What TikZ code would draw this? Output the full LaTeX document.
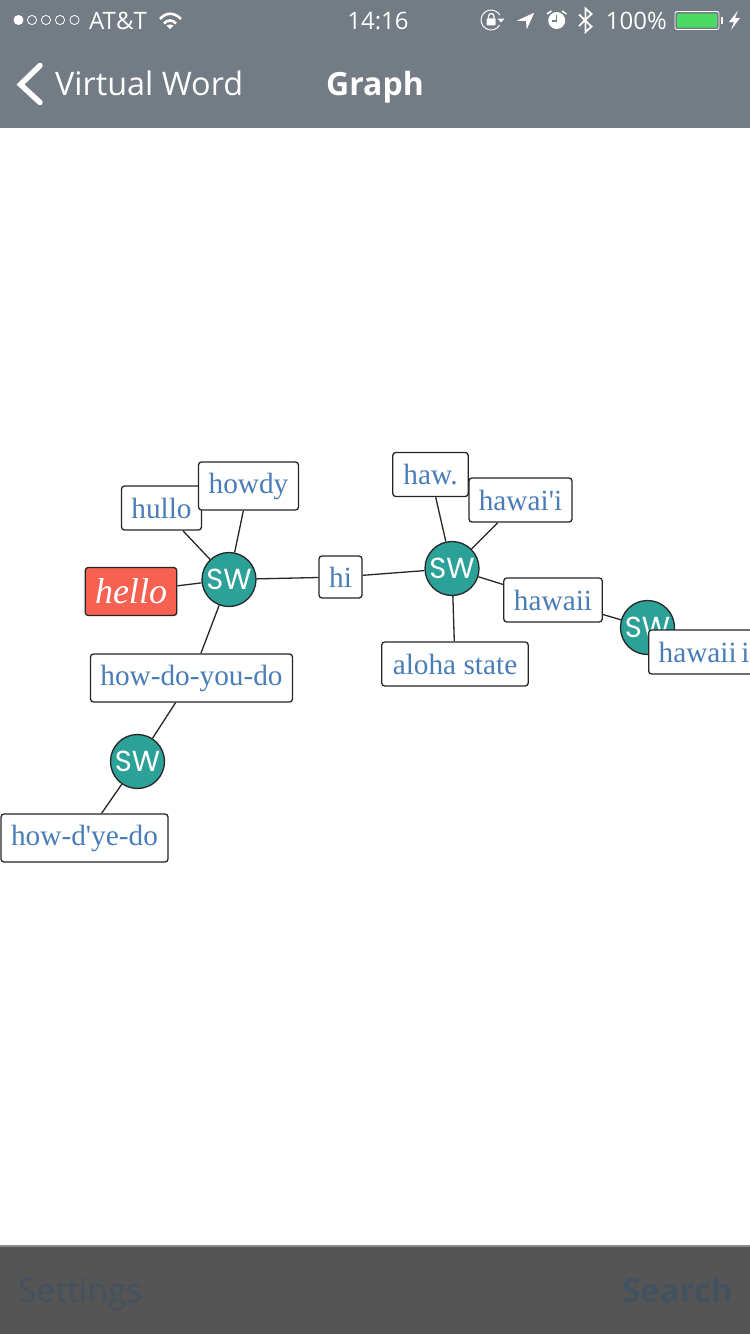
\documentclass[tikz,border=0pt]{standalone}
\usepackage{fontspec}
\setmainfont{Liberation Serif}
\newfontfamily\uifont{Open Sans}
\newfontfamily\swfont{Poppins}
\definecolor{barcolor}{HTML}{737B84}
\definecolor{footcolor}{HTML}{555555}
\definecolor{footline}{HTML}{8A8A8A}
\definecolor{foottext}{HTML}{435260}
\definecolor{swteal}{HTML}{2BA198}
\definecolor{wordblue}{HTML}{4A7DB8}
\definecolor{hellored}{HTML}{F76152}
\definecolor{batterygreen}{HTML}{4CD964}
\tikzset{
  wordbox/.style={draw=black!85, line width=1.3pt, rounded corners=3pt, fill=white,
    text=wordblue, inner sep=0pt, minimum height=44pt, text height=24pt, text depth=4pt,
    font=\fontsize{29.3}{29.3}\selectfont},
  tallbox/.style={wordbox, minimum height=48pt, text height=20pt, text depth=6pt},
  swnode/.style={circle, draw=black!85, line width=1.3pt, fill=swteal, text=white,
    inner sep=0pt, minimum size=54pt, font=\swfont\fontsize{29}{29}\selectfont},
  edge/.style={draw=black!85, line width=1.3pt},
  statustext/.style={text=white, inner sep=0pt, font=\uifont\fontsize{24}{24}\selectfont},
  titletext/.style={text=white, inner sep=0pt, font=\uifont\fontsize{32.4}{32.4}\selectfont},
  foottext/.style={text=foottext, inner sep=0pt, font=\uifont\fontsize{33.4}{33.4}\selectfont},
}
\begin{document}
\begin{tikzpicture}[x=1pt, y=-1pt]
    \useasboundingbox (0,0) rectangle (750,1334);
    \clip (0,0) rectangle (750,1334);
    % 1. bars
    \fill[white] (0,0) rectangle (750,1334);
    \fill[barcolor] (0,0) rectangle (750,128);
    \fill[footcolor] (0,1245) rectangle (750,1334);
    \fill[footline] (0,1245) rectangle (750,1246.5);

    % 2. status bar
    \fill[white] (18.5,20) circle (5);
    \foreach \x in {32,46,60,74.5} {
        \draw[white, line width=0.8pt] (\x,20) circle (4.6);
    }
    \node[statustext, anchor=base west] (carrier) at (89,29) {AT\&T};
    \draw[white, line width=2.6pt] (160,19) .. controls (166,12) and (174,12) .. (181,19);
    \draw[white, line width=2.6pt] (164,23.5) .. controls (167.5,19.5) and (172.5,19.5) .. (176,23.5);
    \fill[white] (166.5,25.5) .. controls (168.5,24) and (171.5,24) .. (173.5,25.5) -- (170,29) -- cycle;
    \node[statustext, anchor=base] (clock) at (378,29) {14:16};
    % lock
    \draw[white, line width=1pt] (499.7,25) arc[start angle=-30, end angle=-330, radius=10pt];
    \fill[white, rounded corners=0.8pt] (486.7,18.3) rectangle (495.7,25.3);
    \draw[white, line width=1.3pt] (488.5,18.5) -- (488.5,16.5) .. controls (488.5,12.5) and (494,12.5) .. (494,16.5) -- (494,18.5);
    \fill[white] (497.5,18.5) -- (504.5,18.5) -- (501,22.5) -- cycle;
    % location
    \fill[white] (516.7,20.7) -- (534.3,12.7) -- (526.7,29.3) -- (526,21) -- cycle;
    % alarm
    \fill[white] (556.7,20.5) circle (8.5);
    \draw[barcolor, line width=1.3pt] (556.7,14.5) -- (556.7,21) -- (551.5,21);
    \draw[white, line width=1.6pt] (547,14) -- (551.5,11);
    \draw[white, line width=1.6pt] (566.5,14) -- (562,11);
    % bluetooth
    \draw[white, line width=1.8pt] (579,14.5) -- (591.5,26.5) -- (585.5,32) -- (585.5,8.5) -- (591.5,14) -- (579,26);
    \node[statustext, anchor=base east] (percent) at (667,29) {100\%};
    % battery
    \draw[white, line width=0.8pt, rounded corners=2pt] (675,11.5) rectangle (719,29.5);
    \fill[batterygreen, rounded corners=1pt] (677,13.5) rectangle (717,27.5);
    \fill[white] (720.5,17) rectangle (722.5,24);
    \fill[white] (738,10.5) -- (729,22) -- (734,22) -- (731,30) -- (740,18) -- (735,18) -- cycle;

    % 3. title bar
    \draw[white, line width=5.5pt, line cap=round, line join=miter] (40,65.5) -- (20.5,84.5) -- (40,102.5);
    \node[titletext, anchor=base west] (backlabel) at (55,95.5) {Virtual Word};
    \node[titletext, anchor=base, font=\uifont\bfseries\fontsize{32}{32}\selectfont] (title) at (375,95.5) {Graph};

    % 4. bottom bar
    \node[foottext, anchor=base west] (settings) at (18,1302) {Settings};
    \node[foottext, anchor=base east, font=\uifont\bfseries\fontsize{33}{33}\selectfont] (search) at (733,1302) {Search};

    % 5. word nodes and sw nodes
    \node[swnode] (swa) at (229,579.5) {SW};
    \node[swnode] (swb) at (137.5,761.5) {SW};
    \node[swnode] (swc) at (452,568.5) {SW};
    \node[swnode] (swd) at (647.5,627.5) {SW};

    \node[wordbox, minimum width=80pt] (hullo) at (161.5,508) {hullo};
    \node[tallbox, minimum width=100pt] (howdy) at (248.5,486) {howdy};
    \node[tallbox, minimum width=91.5pt, fill=hellored, text=white, text height=24pt, text depth=1pt,
        font=\itshape\fontsize{36}{36}\selectfont] (hello) at (131,591.5) {hello};
    \node[wordbox, minimum width=43pt, minimum height=42pt] (hi) at (340.5,577) {hi};
    \node[tallbox, minimum width=202pt] (howdoyoudo) at (191.5,678) {how-do-you-do};
    \node[tallbox, minimum width=167pt] (howdyedo) at (84.5,838) {how-d\textquotesingle ye-do};
    \node[wordbox, minimum width=75.5pt] (haw) at (430.5,474.5) {haw.};
    \node[wordbox, minimum width=103pt] (hawaiiokina) at (520.5,500) {hawai\textquotesingle i};
    \node[wordbox, minimum width=98.5pt] (hawaii) at (553,600) {hawaii};
    \node[wordbox, minimum width=146.5pt] (alohastate) at (455,664) {aloha state};
    \node[wordbox, anchor=west, text width=122pt, align=left] (hawaiiisland) at (648,652) {\hspace{10pt}hawaii\hspace{4.5pt}i};

    % 6. connectors
    \draw[edge] (hello) -- (swa);
    \draw[edge] (hullo) -- (swa);
    \draw[edge] (howdy) -- (swa);
    \draw[edge] (swa) -- (hi);
    \draw[edge] (swa) -- (howdoyoudo);
    \draw[edge] (howdoyoudo) -- (swb);
    \draw[edge] (swb) -- (howdyedo);
    \draw[edge] (hi) -- (swc);
    \draw[edge] (haw) -- (swc);
    \draw[edge] (hawaiiokina) -- (swc);
    \draw[edge] (swc) -- (hawaii);
    \draw[edge] (swc) -- (alohastate);
    \draw[edge] (hawaii) -- (swd);

\end{tikzpicture}
\end{document}
